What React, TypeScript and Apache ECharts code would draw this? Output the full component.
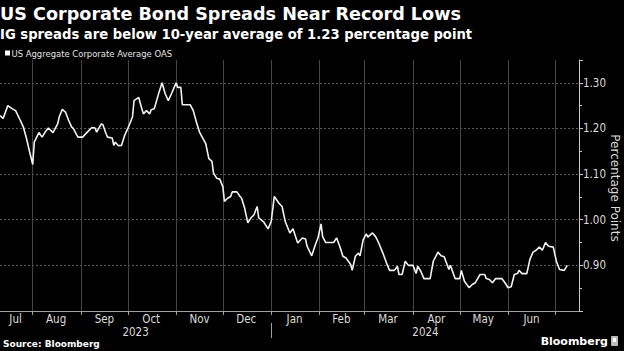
import React, { useEffect, useRef } from 'react';
import * as echarts from 'echarts';

const TITLE = 'US Corporate Bond Spreads Near Record Lows';
const SUBTITLE = 'IG spreads are below 10-year average of 1.23 percentage point';
const SERIES_NAME = 'US Aggregate Corporate Average OAS';
const Y_NAME = 'Percentage Points';
const SOURCE = 'Source: Bloomberg';
const BRAND = 'Bloomberg';

const DATES = [
  '2023-07-11','2023-07-13','2023-07-16','2023-07-19','2023-07-21','2023-07-24','2023-07-26','2023-07-28','2023-07-30',
  '2023-08-01','2023-08-02','2023-08-05','2023-08-07','2023-08-09','2023-08-11','2023-08-14','2023-08-17','2023-08-18','2023-08-20','2023-08-22','2023-08-24','2023-08-26','2023-08-27','2023-08-30',
  '2023-09-02','2023-09-05','2023-09-08','2023-09-10','2023-09-11','2023-09-14','2023-09-15','2023-09-17','2023-09-18','2023-09-21','2023-09-22','2023-09-23','2023-09-25','2023-09-27','2023-09-29',
  '2023-10-01','2023-10-04','2023-10-05','2023-10-08','2023-10-10','2023-10-11','2023-10-13','2023-10-15','2023-10-16','2023-10-18','2023-10-21','2023-10-23','2023-10-25','2023-10-27','2023-10-29',
  '2023-11-01','2023-11-02','2023-11-04','2023-11-05','2023-11-10','2023-11-12','2023-11-14','2023-11-16','2023-11-20','2023-11-22','2023-11-24','2023-11-25','2023-11-27','2023-11-29',
  '2023-12-01','2023-12-02','2023-12-04','2023-12-06','2023-12-07','2023-12-10','2023-12-12','2023-12-13','2023-12-15','2023-12-17','2023-12-19','2023-12-21','2023-12-23','2023-12-24','2023-12-27','2023-12-30',
  '2024-01-01','2024-01-03','2024-01-06','2024-01-08','2024-01-10','2024-01-13','2024-01-15','2024-01-18','2024-01-21','2024-01-23','2024-01-24','2024-01-27','2024-01-29','2024-01-31',
  '2024-02-02','2024-02-03','2024-02-05','2024-02-10','2024-02-12','2024-02-14','2024-02-16','2024-02-18','2024-02-21','2024-02-22','2024-02-24','2024-02-26','2024-02-27','2024-02-29',
  '2024-03-02','2024-03-03','2024-03-06','2024-03-08','2024-03-10','2024-03-13','2024-03-15','2024-03-17','2024-03-20','2024-03-22','2024-03-23','2024-03-25','2024-03-27','2024-03-29',
  '2024-04-01','2024-04-03','2024-04-04','2024-04-06','2024-04-08','2024-04-12','2024-04-14','2024-04-17','2024-04-19','2024-04-21','2024-04-24','2024-04-25','2024-04-28',
  '2024-05-01','2024-05-02','2024-05-04','2024-05-07','2024-05-09','2024-05-11','2024-05-14','2024-05-17','2024-05-18','2024-05-20','2024-05-22','2024-05-24','2024-05-28','2024-05-30',
  '2024-06-01','2024-06-03','2024-06-05','2024-06-07','2024-06-08','2024-06-10','2024-06-13','2024-06-15','2024-06-17','2024-06-19','2024-06-21','2024-06-23','2024-06-25','2024-06-27','2024-06-30',
  '2024-07-02','2024-07-04','2024-07-07','2024-07-09',
];

const OAS = [
  1.228,1.222,1.250,1.243,1.239,1.218,1.203,1.178,1.149,
  1.121,1.170,1.191,1.181,1.192,1.201,1.191,1.210,1.225,1.242,1.236,1.218,1.203,1.200,1.181,
  1.181,1.192,1.202,1.201,1.192,1.210,1.208,1.189,1.181,1.179,1.163,1.170,1.162,1.163,1.185,
  1.200,1.225,1.261,1.268,1.243,1.232,1.239,1.232,1.241,1.243,1.279,1.300,1.276,1.261,1.276,
  1.300,1.290,1.290,1.252,1.252,1.239,1.214,1.192,1.167,1.134,1.128,1.102,1.091,1.089,
  1.072,1.040,1.047,1.051,1.061,1.061,1.051,1.047,1.025,0.993,1.004,1.011,1.029,1.004,0.996,0.980,
  0.996,1.051,1.036,1.029,0.996,0.971,0.980,0.949,0.960,0.958,0.942,0.921,0.942,0.960,
  0.991,0.963,0.950,0.950,0.960,0.942,0.920,0.916,0.902,0.889,0.920,0.927,0.921,0.956,
  0.969,0.962,0.971,0.963,0.949,0.924,0.905,0.889,0.889,0.898,0.880,0.880,0.909,0.900,
  0.900,0.882,0.898,0.887,0.871,0.871,0.909,0.929,0.921,0.919,0.891,0.900,0.871,
  0.871,0.889,0.865,0.851,0.858,0.862,0.880,0.880,0.871,0.869,0.862,0.871,0.871,0.862,
  0.851,0.853,0.880,0.882,0.889,0.882,0.882,0.913,0.929,0.933,0.940,0.933,0.950,0.942,0.940,
  0.909,0.891,0.889,0.900,
];

const MONTH_STARTS = [
  '2023-08-01','2023-09-01','2023-10-01','2023-11-01','2023-12-01','2024-01-01',
  '2024-02-01','2024-03-01','2024-04-01','2024-05-01','2024-06-01','2024-07-01',
];
const MONTH_LABEL_DATES = [
  '2023-07-21','2023-08-16','2023-09-16','2023-10-16','2023-11-16','2023-12-16',
  '2024-01-16','2024-02-15','2024-03-16','2024-04-16','2024-05-16','2024-06-16',
];
const MONTH_NAMES = ['Jan','Feb','Mar','Apr','May','Jun','Jul','Aug','Sep','Oct','Nov','Dec'];
const YEAR_LABEL_DATES = ['2023-10-06', '2024-04-09'];
const YEAR_BREAKS = ['2024-01-01'];
const Y_TICK_LABELS = ['0.90', '1.00', '1.10', '1.20', '1.30'];
const X_MIN = '2023-07-11';
const X_MAX = '2024-07-16';

const ts = (s: string, hour = 0) => {
  const [y, m, d] = s.split('-').map(Number);
  return new Date(y, m - 1, d, hour).getTime();
};

const AXIS_FONT = "'Liberation Sans Narrow', 'DejaVu Sans Condensed', Roboto, sans-serif";

export default function App() {
  const ref = useRef<HTMLDivElement>(null);

  useEffect(() => {
    document.body.style.margin = '0';
    document.body.style.background = '#000';
    const chart = echarts.init(ref.current!, undefined, { renderer: 'svg' });
    const xMin = ts(X_MIN);
    const xMax = ts(X_MAX, 12);

    chart.setOption({
      animation: false,
      backgroundColor: '#000',
      grid: {
        left: 0,
        right: 45,
        top: 60,
        bottom: 40,
        containLabel: false,
        outerBoundsMode: 'none',
      },
      xAxis: [
        {
          type: 'value',
          min: xMin,
          max: xMax,
          axisLine: { show: true, lineStyle: { color: '#a0a0a0', width: 1 } },
          axisTick: {
            show: true,
            customValues: MONTH_STARTS.map((s) => ts(s)),
            length: 4,
            lineStyle: { color: '#a0a0a0' },
          },
          axisLabel: {
            customValues: MONTH_LABEL_DATES.map((s) => ts(s)),
            formatter: (v: number) => MONTH_NAMES[new Date(v).getMonth()],
            color: '#dcdcdc',
            fontSize: 11.5,
            fontFamily: AXIS_FONT,
            margin: 2,
            hideOverlap: false,
          },
          splitLine: { show: false },
        },
        {
          type: 'value',
          min: xMin,
          max: xMax,
          position: 'bottom',
          offset: 12,
          axisLine: { show: false },
          axisTick: {
            show: true,
            customValues: YEAR_BREAKS.map((s) => ts(s)),
            length: 15,
            lineStyle: { color: '#a0a0a0' },
          },
          axisLabel: {
            customValues: YEAR_LABEL_DATES.map((s) => ts(s)),
            formatter: (v: number) => String(new Date(v).getFullYear()),
            color: '#dcdcdc',
            fontSize: 11.5,
            fontFamily: AXIS_FONT,
            margin: 3,
          },
          splitLine: { show: false },
        },
      ],
      yAxis: {
        type: 'value',
        position: 'right',
        min: 0.8,
        max: 1.35,
        interval: 0.1,
        axisLine: { show: true, lineStyle: { color: '#c8c8c8', width: 1 } },
        axisTick: { show: true, length: 4, lineStyle: { color: '#c8c8c8' } },
        minorTick: { show: true, splitNumber: 2, length: 3, lineStyle: { color: '#c8c8c8' } },
        splitLine: {
          show: true,
          showMinLine: false,
          showMaxLine: false,
          lineStyle: { color: '#5a5a5a', type: [2, 2], width: 1 },
        },
        axisLabel: {
          formatter: (v: number) => {
            const s = v.toFixed(2);
            return Y_TICK_LABELS.includes(s) ? s : '';
          },
          color: '#dcdcdc',
          fontSize: 11.5,
          fontFamily: AXIS_FONT,
          margin: 4,
        },
      },
      series: [
        {
          name: SERIES_NAME,
          type: 'line',
          xAxisIndex: 0,
          showSymbol: false,
          data: DATES.map((d, i) => [ts(d), OAS[i]]),
          lineStyle: { color: '#f2f2f2', width: 1.6 },
          itemStyle: { color: '#f2f2f2' },
          z: 3,
          markLine: {
            silent: true,
            symbol: ['none', 'none'],
            label: { show: false },
            lineStyle: { color: '#444444', type: 'solid', width: 1 },
            emphasis: { disabled: true },
            data: MONTH_STARTS.map((s) => ({ xAxis: ts(s) })),
            z: 1,
          },
        },
      ],
      graphic: [
        {
          type: 'text',
          x: 0,
          y: 14,
          style: {
            text: TITLE,
            fill: '#ffffff',
            fontSize: 17.6,
            fontWeight: 'bold',
            fontFamily: 'DejaVu Sans',
            verticalAlign: 'middle',
          },
        },
        {
          type: 'text',
          x: 0,
          y: 34,
          style: {
            text: SUBTITLE,
            fill: '#ffffff',
            fontSize: 13.2,
            fontWeight: 'bold',
            fontFamily: 'DejaVu Sans',
            verticalAlign: 'middle',
          },
        },
        {
          type: 'rect',
          shape: { x: 5, y: 50.5, width: 5, height: 5 },
          style: { fill: '#ffffff' },
        },
        {
          type: 'text',
          x: 11.5,
          y: 53,
          style: {
            text: SERIES_NAME,
            fill: '#e6e6e6',
            fontSize: 9.4,
            fontFamily: AXIS_FONT,
            verticalAlign: 'middle',
          },
        },
        {
          type: 'text',
          x: 615,
          y: 188,
          rotation: -Math.PI / 2,
          style: {
            text: Y_NAME,
            fill: '#dcdcdc',
            fontSize: 12,
            fontFamily: 'DejaVu Sans',
            align: 'center',
            verticalAlign: 'middle',
          },
        },
        {
          type: 'text',
          x: 3,
          y: 344,
          style: {
            text: SOURCE,
            fill: '#ffffff',
            fontSize: 9,
            fontWeight: 'bold',
            fontFamily: 'DejaVu Sans',
            verticalAlign: 'middle',
          },
        },
        {
          type: 'text',
          x: 608,
          y: 341,
          style: {
            text: BRAND,
            fill: '#ffffff',
            fontSize: 11,
            fontWeight: 'bold',
            fontFamily: 'DejaVu Sans',
            align: 'right',
            verticalAlign: 'middle',
          },
        },
        {
          type: 'rect',
          shape: { x: 611, y: 336, width: 7, height: 10, r: 1 },
          style: { fill: '#bdbdbd' },
        },
        {
          type: 'rect',
          shape: { x: 613, y: 338, width: 3, height: 4 },
          style: { fill: '#ffffff' },
        },
      ],
    });

    return () => chart.dispose();
  }, []);

  return <div ref={ref} style={{ width: 624, height: 351, background: '#000' }} />;
}
